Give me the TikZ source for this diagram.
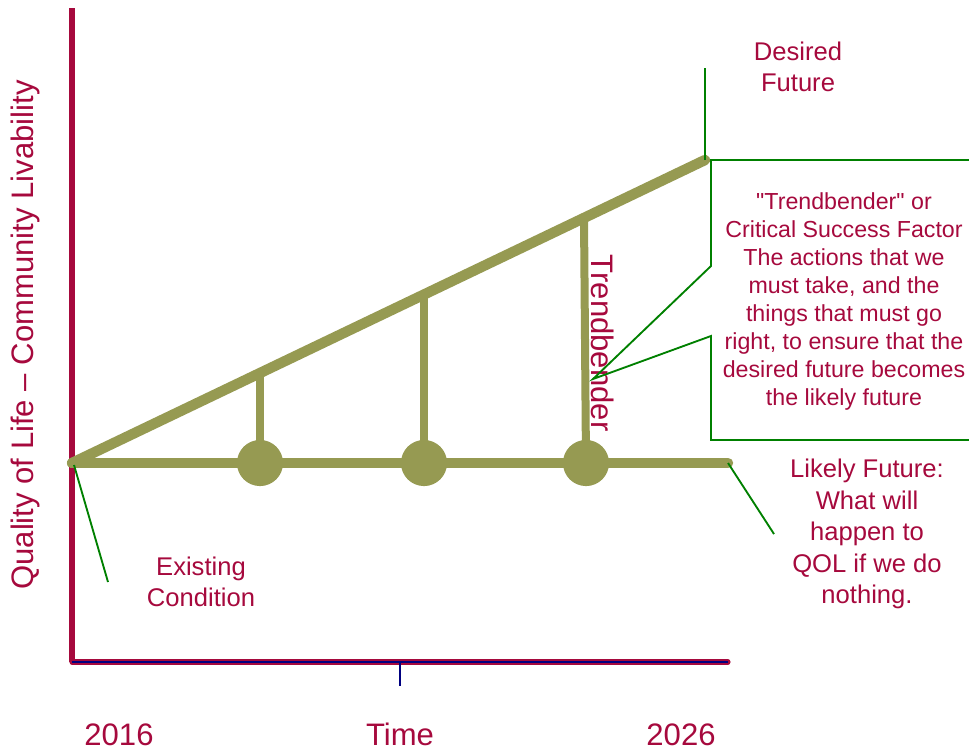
\documentclass[tikz,border=0pt]{standalone}
\usepackage{fontspec}
\setmainfont{Liberation Sans}[Ligatures=TeXOff]
\definecolor{crim}{HTML}{A6093D}
\definecolor{oliv}{HTML}{969A52}
\definecolor{grn}{HTML}{008000}
\definecolor{nav}{HTML}{000080}
\begin{document}
\begin{tikzpicture}[x=0.75pt,y=-0.75pt,
  lbl/.style={text=crim, align=center, inner sep=0pt},
  bigtxt/.style={lbl, font=\fontsize{23.3}{28}\selectfont},
  midtxt/.style={lbl, font=\fontsize{19.2}{23.6}\selectfont},
  smalltxt/.style={lbl, font=\fontsize{17.4}{21}\selectfont},
  olivethick/.style={draw=oliv, line width=7.8pt, line cap=round},
  olivepost/.style={draw=oliv, line width=6pt},
  leader/.style={draw=grn, line width=1.4pt},
  axisline/.style={draw=crim, line width=3.8pt}]
\useasboundingbox (0,0) rectangle (969,750);
% coordinates
\coordinate (origin) at (72,463);
\coordinate (lend) at (728,463);
\coordinate (dend) at (705,160);
\coordinate (ytop) at (72,8);
\coordinate (o) at (72,662);
\coordinate (xend) at (728,662);
\coordinate (tick) at (400,662);
\coordinate (tickb) at (400,686);
\coordinate (c1) at (260,463);
\coordinate (c2) at (424,463);
\coordinate (c3) at (586,463);
\coordinate (t1) at (260,373);
\coordinate (t2) at (424,294);
\coordinate (t3) at (584,218);
% axes
\draw[axisline] (ytop) -- (o);
\draw[axisline, line cap=round] (o) -- (xend);
\draw[nav, line width=1.8pt] (o) -- (xend);
\draw[nav, line width=1pt] (tick) -- (tickb);
% trend lines
\draw[olivepost] (c1) -- (t1);
\draw[olivepost] (c2) -- (t2);
\draw[olivepost] (c3) -- (t3);
\draw[olivethick] (origin) -- (lend);
\draw[olivethick] (origin) -- (dend);
\fill[oliv] (c1) circle (17.3pt);
\fill[oliv] (c2) circle (17.3pt);
\fill[oliv] (c3) circle (17.3pt);
% labels
\node[bigtxt, anchor=base] (y2016) at (119,745) {2016};
\node[bigtxt, anchor=base] (time) at (400,745) {Time};
\node[bigtxt, anchor=base] (y2026) at (681,745) {2026};
\node[bigtxt, rotate=90] (ylab) at (25,335) {Quality of Life – Community Livability};
\node[bigtxt, rotate=-90] (trend) at (603,343) {Trendbender};
\node[midtxt] (desired) at (798,67) {Desired\\Future};
\node[midtxt] (exist) at (201,582) {Existing\\Condition};
\node[midtxt] (likely) at (867,534) {Likely Future:\\What will\\happen to\\QOL if we do\\nothing.};
\node[smalltxt] (csf) at (844,301) {"Trendbender" or\\Critical Success Factor\\The actions that we\\must take, and the\\things that must go\\right, to ensure that the\\desired future becomes\\the likely future};
% leaders
\coordinate (dtop) at (705,68);
\draw[leader] (dtop) -- (dend);
\coordinate (e1) at (74,465);
\coordinate (e2) at (108,582);
\draw[leader] (e1) -- (e2);
\coordinate (l2) at (774,534);
\draw[leader] (lend) -- (l2);
\coordinate (b1) at (969,160);
\coordinate (b2) at (711,160);
\coordinate (b3) at (711,266);
\coordinate (bp) at (593,379);
\coordinate (b4) at (711,336);
\coordinate (b5) at (711,440);
\coordinate (b6) at (969,440);
\draw[leader] (b1) -- (b2) -- (b3) -- (bp) -- (b4) -- (b5) -- (b6);
\end{tikzpicture}
\end{document}
